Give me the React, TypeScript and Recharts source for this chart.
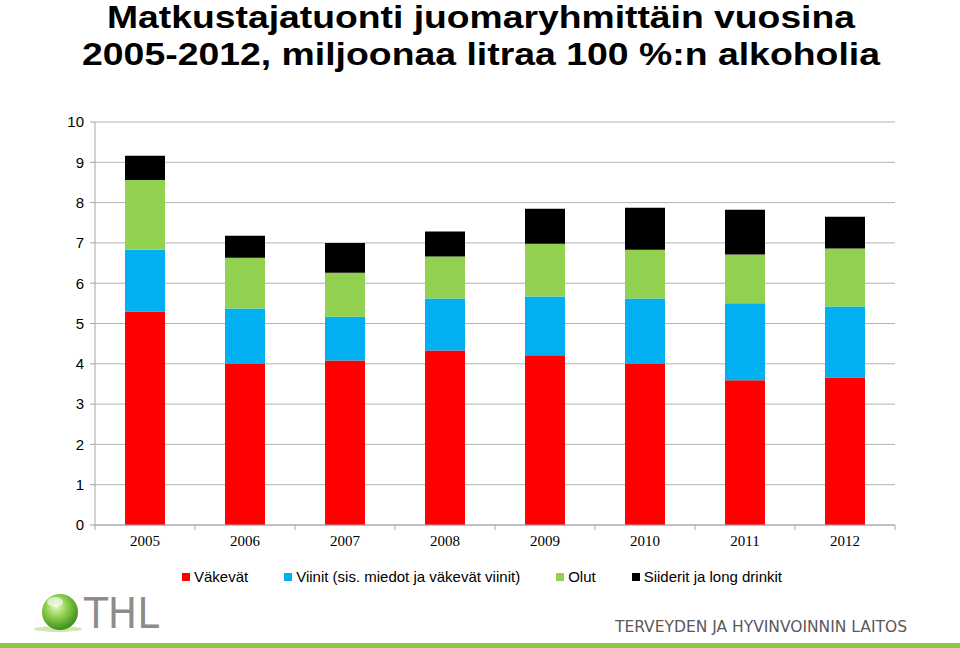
import { BarChart, Bar, XAxis, YAxis, CartesianGrid, Legend } from "recharts";

const years = ["2005", "2006", "2007", "2008", "2009", "2010", "2011", "2012"];
const vakevat = [5.3, 4.01, 4.08, 4.33, 4.21, 4.01, 3.59, 3.66];
const viinit = [1.53, 1.36, 1.09, 1.29, 1.46, 1.61, 1.91, 1.76];
const olut = [1.73, 1.26, 1.09, 1.04, 1.31, 1.21, 1.21, 1.44];
const siiderit = [0.6, 0.55, 0.74, 0.62, 0.87, 1.04, 1.11, 0.79];
const yTicks = [0, 1, 2, 3, 4, 5, 6, 7, 8, 9, 10];

const series = [
  { key: "vakevat", name: "Väkevät", color: "#ff0000" },
  { key: "viinit", name: "Viinit (sis. miedot ja väkevät viinit)", color: "#00b0f0" },
  { key: "olut", name: "Olut", color: "#92d050" },
  { key: "siiderit", name: "Siiderit ja long drinkit", color: "#000000" },
];

const data = years.map((year, i) => ({
  year,
  vakevat: vakevat[i],
  viinit: viinit[i],
  olut: olut[i],
  siiderit: siiderit[i],
}));

const AXIS = "#a6a6a6";
const BAND = 100;

function YearTick(props: any) {
  const { x, y, payload, index } = props;
  const last = index === years.length - 1;
  return (
    <g>
      <line x1={x - BAND / 2} y1={525} x2={x - BAND / 2} y2={530} stroke={AXIS} />
      {last && <line x1={x + BAND / 2} y1={525} x2={x + BAND / 2} y2={530} stroke={AXIS} />}
      <text
        x={x}
        y={y}
        dy={13}
        textAnchor="middle"
        fontFamily="'Liberation Serif', 'Times New Roman', serif"
        fontSize={15}
        fill="#000"
      >
        {payload.value}
      </text>
    </g>
  );
}

function LegendRow() {
  return (
    <div
      style={{
        position: "absolute",
        left: 0,
        top: 568,
        width: 960,
        display: "flex",
        justifyContent: "center",
        fontFamily: "'Liberation Sans', Arial, sans-serif",
        fontSize: 15,
        color: "#000",
        paddingLeft: 20,
      }}
    >
      {series.map((s) => (
        <span key={s.key} style={{ display: "inline-flex", alignItems: "center", marginRight: 36 }}>
          <span style={{ width: 8, height: 8, background: s.color, marginRight: 4, display: "inline-block" }} />
          {s.name}
        </span>
      ))}
    </div>
  );
}

export default function App() {
  return (
    <div
      style={{
        position: "fixed",
        left: 0,
        top: 0,
        width: 960,
        height: 648,
        background: "#fff",
        overflow: "hidden",
      }}
    >
      <BarChart
        width={960}
        height={560}
        data={data}
        margin={{ top: 122, right: 65, left: 0, bottom: 0 }}
        barSize={40}
      >
        <CartesianGrid vertical={false} stroke="#b3b3b3" />
        <XAxis
          dataKey="year"
          height={35}
          stroke={AXIS}
          tickLine={false}
          tick={<YearTick />}
          interval={0}
        />
        <YAxis
          width={95}
          domain={[0, 10]}
          ticks={yTicks}
          interval={0}
          stroke={AXIS}
          tickSize={5}
          tickMargin={6}
          tick={{ fill: "#000", fontSize: 15, fontFamily: "'Liberation Sans', Arial, sans-serif" }}
        />
        <Legend content={() => null} />
        {series.map((s) => (
          <Bar key={s.key} dataKey={s.key} name={s.name} stackId="a" fill={s.color} isAnimationActive={false} />
        ))}
      </BarChart>

      <LegendRow />

      <svg
        width={960}
        height={648}
        style={{ position: "absolute", left: 0, top: 0, pointerEvents: "none" }}
      >
        <defs>
          <radialGradient id="ball" cx="40%" cy="35%" r="65%">
            <stop offset="0%" stopColor="#e8f7c8" />
            <stop offset="45%" stopColor="#8fd14f" />
            <stop offset="100%" stopColor="#3f8f1c" />
          </radialGradient>
        </defs>
        <g fontFamily="'Liberation Sans', Arial, sans-serif" fontWeight="bold" fontSize={32} fill="#000">
          <text x={107} y={28} textLength={748} lengthAdjust="spacingAndGlyphs">
            Matkustajatuonti juomaryhmittäin vuosina
          </text>
          <text x={82} y={65} textLength={798} lengthAdjust="spacingAndGlyphs">
            2005-2012, miljoonaa litraa 100 %:n alkoholia
          </text>
        </g>

        <ellipse cx={58} cy={629} rx={24} ry={3} fill="#cfe6b5" />
        <circle cx={60} cy={612} r={18} fill="url(#ball)" />
        <ellipse cx={55} cy={602} rx={8} ry={5} fill="#ffffff" opacity={0.6} />
        <text
          x={84}
          y={628}
          fontFamily="'Liberation Sans Narrow', 'DejaVu Sans Condensed', Arial, sans-serif"
          fontSize={42}
          fill="#8c8c8c"
          textLength={75}
          lengthAdjust="spacingAndGlyphs"
        >
          THL
        </text>
        <text
          x={615}
          y={632}
          fontFamily="'Liberation Sans Narrow', 'DejaVu Sans Condensed', Arial, sans-serif"
          fontSize={16}
          fill="#595959"
          textLength={292}
          lengthAdjust="spacingAndGlyphs"
        >
          TERVEYDEN JA HYVINVOINNIN LAITOS
        </text>
        <rect x={0} y={643} width={960} height={5} fill="#8dc63f" />
      </svg>
    </div>
  );
}
